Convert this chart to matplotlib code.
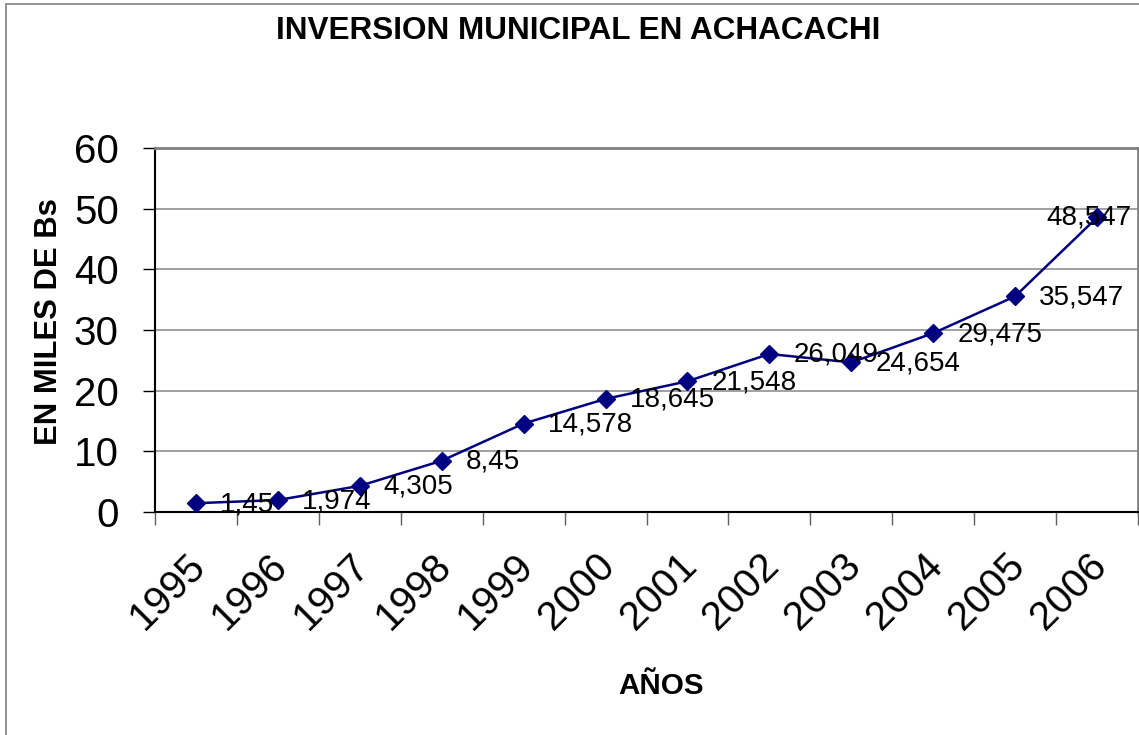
import matplotlib
matplotlib.use("Agg")
import matplotlib.pyplot as plt
import matplotlib.transforms as mtransforms
from matplotlib.patches import Rectangle

years = ["1995", "1996", "1997", "1998", "1999", "2000",
         "2001", "2002", "2003", "2004", "2005", "2006"]
values = [1.45, 1.974, 4.305, 8.45, 14.578, 18.645,
          21.548, 26.049, 24.654, 29.475, 35.547, 48.547]
labels = ["1,45", "1,974", "4,305", "8,45", "14,578", "18,645",
          "21,548", "26,049", "24,654", "29,475", "35,547", "48,547"]

plt.rcParams['font.family'] = ['Liberation Sans', 'DejaVu Sans']

fig = plt.figure(figsize=(11.39, 7.35), dpi=100)
ax = fig.add_axes([155/1139, 1 - 512/735, 983/1139, 364/735])

# outer chart border
fig.patches.append(Rectangle((6/1139, -0.01), 1.2, 1 - 4/735 + 0.01,
                             transform=fig.transFigure, fill=False,
                             edgecolor='#808080', lw=1.2))

xs = [i + 0.5 for i in range(len(years))]
ax.plot(xs, values, color='#000080', lw=1.8, marker='D', ms=9,
        markerfacecolor='#000080', markeredgecolor='#000080', zorder=3)

for i, (x, v, t) in enumerate(zip(xs, values, labels)):
    if i == len(xs) - 1:
        ax.annotate(t, (x, v), xytext=(34, 0), textcoords='offset pixels',
                    ha='right', va='center', fontsize=20, zorder=4)
    else:
        ax.annotate(t, (x, v), xytext=(24, -1), textcoords='offset pixels',
                    ha='left', va='center', fontsize=20, zorder=4)

ax.set_xlim(0, len(years))
ax.set_ylim(0, 60)
ax.set_yticks(range(0, 61, 10))
ax.yaxis.grid(True, color='#909090', lw=1.2)
ax.set_axisbelow(True)

ax.set_xticks(range(0, len(years) + 1))
ax.set_xticklabels([])
ax.set_xticks(xs, minor=True)
ax.set_xticklabels(years, minor=True, rotation=45, ha='right',
                   rotation_mode='anchor', fontsize=29)
ax.tick_params(axis='x', which='minor', length=0, pad=25)
ax.tick_params(axis='x', which='major', length=9, width=1, color='#606060',
               direction='out')
ax.tick_params(axis='y', length=9, width=1, direction='out', labelsize=29,
               pad=17)
shift = mtransforms.ScaledTranslation(-10/100, 0, fig.dpi_scale_trans)
for lab in ax.get_xticklabels(minor=True):
    lab.set_transform(lab.get_transform() + shift)

for s in ['left', 'bottom']:
    ax.spines[s].set_color('black')
    ax.spines[s].set_linewidth(1.5)
for s in ['top', 'right']:
    ax.spines[s].set_color('#808080')
    ax.spines[s].set_linewidth(2)

fig.text(0.508, 0.958, "INVERSION MUNICIPAL EN ACHACACHI", ha='center',
         va='center', fontsize=22.7, fontweight='bold')
fig.text(0.580, 0.0667, "AÑOS", ha='center', va='center', fontsize=21.3,
         fontweight='bold')
fig.text(0.043, 0.562, "EN MILES DE Bs", ha='center', va='center',
         rotation=90, fontsize=22.3, fontweight='bold')

fig.savefig("out.png", dpi=100)
